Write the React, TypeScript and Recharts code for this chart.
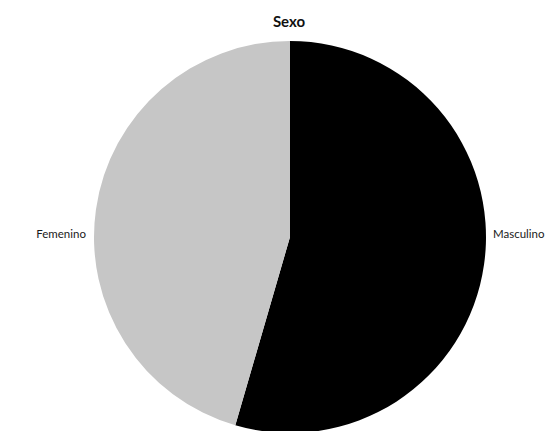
import { PieChart, Pie, Cell } from "recharts"

const categories = ["Masculino", "Femenino"]
const values = [54.5, 45.5]
const colors = ["#000000", "#c6c6c6"]

const data = categories.map((name, i) => ({ name, value: values[i] }))

const FONT = "Lato, 'Liberation Sans', sans-serif"

function renderLabel(props: any) {
  const { cx, cy, outerRadius, midAngle, name } = props
  const right = Math.cos((-midAngle * Math.PI) / 180) >= 0
  const x = right ? cx + outerRadius + 7 : cx - outerRadius - 8
  return (
    <text
      x={x}
      y={cy - 4}
      textAnchor={right ? "start" : "end"}
      dominantBaseline="central"
      fill="#1a1a1a"
      fontSize={11.5}
      fontFamily={FONT}
    >
      {name}
    </text>
  )
}

export default function App() {
  return (
    <div style={{ width: 551, height: 431, position: "absolute", left: 0, top: 0, background: "#fff" }}>
      <style>{"body{margin:0}"}</style>
      <PieChart width={551} height={431} margin={{ top: 0, right: 0, bottom: 0, left: 0 }}>
        <text
          x={289}
          y={21}
          textAnchor="middle"
          dominantBaseline="central"
          fontSize={15}
          fontWeight="bold"
          fontFamily={FONT}
          fill="#111"
        >
          Sexo
        </text>
        <Pie
          data={data}
          dataKey="value"
          nameKey="name"
          cx={290}
          cy={237}
          outerRadius={196}
          startAngle={90}
          endAngle={-270}
          stroke="none"
          label={renderLabel}
          labelLine={false}
          isAnimationActive={false}
        >
          {data.map((d, i) => (
            <Cell key={d.name} fill={colors[i]} />
          ))}
        </Pie>
      </PieChart>
    </div>
  )
}
